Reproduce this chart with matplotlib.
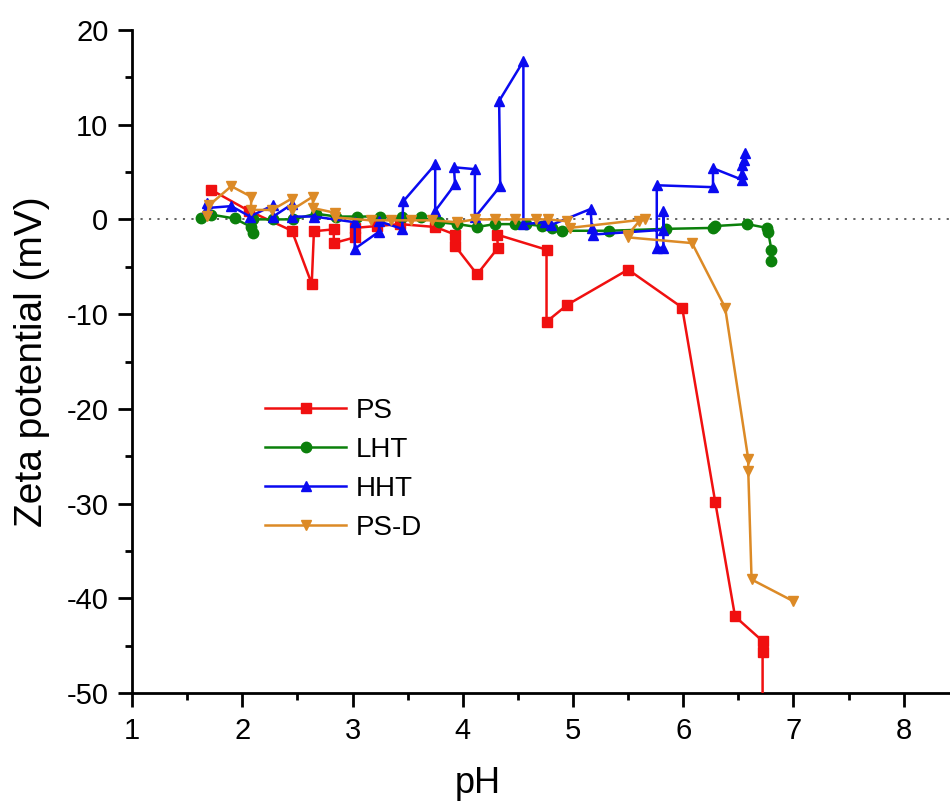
import matplotlib
matplotlib.use("Agg")
import matplotlib.pyplot as plt
from matplotlib.ticker import MultipleLocator

plt.rcParams['font.family'] = ['Liberation Sans', 'DejaVu Sans']
plt.rcParams['axes.unicode_minus'] = False

# ---- data ----
ps_ph = [1.72, 2.06, 2.45, 2.63, 2.65, 2.83, 2.83, 3.02, 3.02, 3.22, 3.43, 3.75,
         3.93, 3.93, 4.13, 4.32, 4.31, 4.76, 4.76, 4.95, 5.50, 5.99, 6.29, 6.47,
         6.72, 6.72, 6.72]
ps_zeta = [3.1, 0.9, -1.2, -6.8, -1.25, -1.05, -2.5, -1.9, -0.9, -0.7, -0.5, -0.8,
           -1.6, -2.8, -5.8, -3.0, -1.6, -3.2, -10.8, -9.0, -5.3, -9.3, -29.8, -41.9,
           -44.5, -45.6, -60.0]

lht_ph = [1.63, 1.72, 1.93, 2.08, 2.10, 2.10, 2.28, 2.46, 2.67, 2.85, 3.04, 3.25,
          3.45, 3.62, 3.78, 3.95, 4.13, 4.29, 4.47, 4.57, 4.72, 4.81, 4.90, 5.33,
          5.84, 6.27, 6.29, 6.58, 6.76, 6.77, 6.80, 6.80]
lht_zeta = [0.1, 0.5, 0.1, -0.8, -1.4, 0.0, 0.0, 0.0, 0.6, 0.3, 0.3, 0.3,
            0.2, 0.2, -0.3, -0.5, -0.8, -0.5, -0.5, -0.5, -0.7, -0.9, -1.2, -1.2,
            -1.0, -0.9, -0.7, -0.5, -0.9, -1.3, -3.2, -4.4]

hht_ph = [1.68, 1.68, 1.90, 2.07, 2.28, 2.28, 2.45, 2.45, 2.65, 3.02, 3.02, 3.24,
          3.24, 3.45, 3.46, 3.75, 3.75, 3.93, 3.92, 4.11, 4.11, 4.34, 4.33, 4.55,
          4.55, 4.75, 4.80, 5.16, 5.17, 5.18, 5.82, 5.82, 5.82, 5.76, 5.76, 6.27,
          6.27, 6.53, 6.53, 6.53, 6.55, 6.56]
hht_zeta = [1.7, 1.2, 1.4, 0.3, 1.5, 0.3, 1.6, 0.3, 0.3, -0.3, -3.1, -1.3,
            -0.2, -1.0, 1.9, 5.8, 0.9, 3.7, 5.5, 5.3, 0.2, 3.5, 12.5, 16.7,
            -0.5, -0.3, -0.6, 1.1, -0.9, -1.6, -1.1, 0.9, -3.0, -3.0, 3.6, 3.4,
            5.4, 4.2, 4.8, 5.7, 6.3, 7.0]

psd_ph = [1.68, 1.70, 1.90, 2.08, 2.08, 2.27, 2.45, 2.45, 2.64, 2.64, 2.84, 2.84,
          3.17, 3.35, 3.53, 3.72, 3.95, 4.11, 4.29, 4.47, 4.66, 4.77, 4.95, 4.97,
          5.65, 5.60, 5.50, 5.50, 6.08, 6.38, 6.59, 6.59, 6.62, 7.00]
psd_zeta = [0.4, 1.5, 3.5, 2.4, 1.0, 1.0, 2.2, 1.0, 2.4, 1.2, 0.7, 0.2,
            -0.1, -0.1, -0.1, -0.1, -0.3, 0.0, 0.0, 0.0, 0.0, 0.0, -0.2, -0.9,
            0.0, -0.2, -1.6, -1.9, -2.5, -9.3, -25.3, -26.6, -38.0, -40.3]

series_labels = ['PS', 'LHT', 'HHT', 'PS-D']
series_colors = ['#f01010', '#0b800b', '#0a0af0', '#dc8a26']
series_markers = ['s', 'o', '^', 'v']

xticks = [1, 2, 3, 4, 5, 6, 7, 8]
yticks = [-50, -40, -30, -20, -10, 0, 10, 20]

# ---- figure ----
fig = plt.figure(figsize=(9.5, 8.07), dpi=100)
ax = fig.add_axes([0.139, 0.141, 0.861, 0.822])

ax.axhline(0, color='#555555', lw=1.3, ls=(0, (1.2, 3.5)), zorder=1)

data = [(ps_ph, ps_zeta), (lht_ph, lht_zeta), (hht_ph, hht_zeta), (psd_ph, psd_zeta)]
for (xs, ys), lab, c, m in zip(data, series_labels, series_colors, series_markers):
    ax.plot(xs, ys, color=c, marker=m, ms=7.5, lw=1.8, label=lab, zorder=3)

ax.set_xlim(1, 8.42)
ax.set_ylim(-50, 20)
ax.set_xticks(xticks)
ax.set_yticks(yticks)
ax.xaxis.set_minor_locator(MultipleLocator(0.5))
ax.yaxis.set_minor_locator(MultipleLocator(5))

for s in ['top', 'right']:
    ax.spines[s].set_visible(False)
for s in ['left', 'bottom']:
    ax.spines[s].set_linewidth(2)

ax.tick_params(which='major', direction='out', length=10, width=2, labelsize=21, pad=7)
ax.tick_params(which='minor', direction='out', length=5, width=2)

ax.set_xlabel('pH', fontsize=26)
ax.xaxis.set_label_coords(0.423, -0.11)
ax.set_ylabel('Zeta potential (mV)', fontsize=28)
ax.yaxis.set_label_coords(-0.10, 0.5)

ax.legend(loc='upper left', bbox_to_anchor=(0.163, 0.445), frameon=False,
          fontsize=20, handlelength=2.9, handletextpad=0.35, labelspacing=0.47,
          borderpad=0, borderaxespad=0)

fig.savefig('out.png', dpi=100)
